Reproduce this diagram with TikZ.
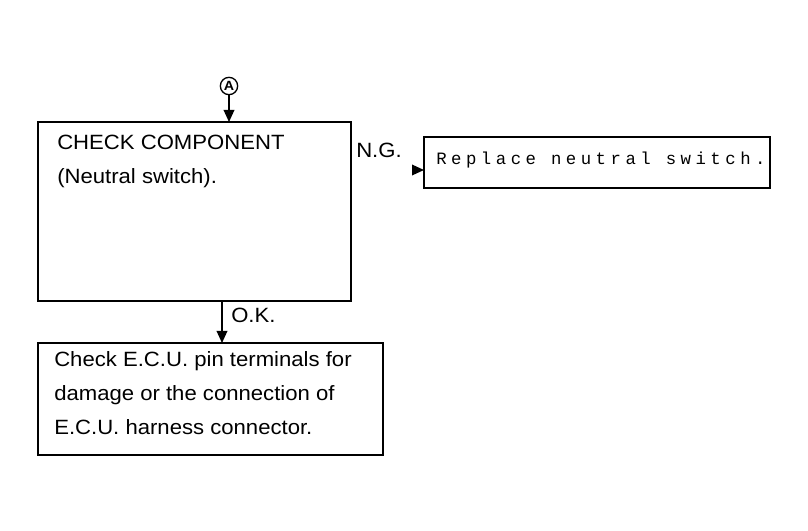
\documentclass[tikz,border=0pt]{standalone}
\usepackage{fontspec}
\setmainfont{Liberation Sans}[FakeStretch=1.07]
\newfontfamily\monofont[LetterSpace=26]{Liberation Mono}
\usetikzlibrary{arrows.meta}
\begin{document}
\begin{tikzpicture}[x=0.75pt,y=-0.75pt,
  box/.style={draw,line width=1.2pt},
  txt/.style={anchor=north west,align=left,font=\fontsize{15.5pt}{25.5pt}\selectfont,inner sep=0pt},
  flow/.style={-{Triangle[length=9pt,width=8pt]},line width=1pt}]
\useasboundingbox (0,0) rectangle (808,531);
\draw[box] (38,122) rectangle (351,301);
\draw[box] (424,137) rectangle (770,188);
\draw[box] (38,343) rectangle (383,455);
\coordinate (check) at (229,122);
\coordinate (repl) at (424,170);
\coordinate (ecu) at (222,343);
\node[circle,draw,line width=1pt,inner sep=0.8pt,minimum size=13pt,font=\bfseries\fontsize{10pt}{10pt}\selectfont] (A) at (229,86) {A};
\draw[flow] (A) -- (check);
\coordinate (ng) at (412,170);
\draw[flow] (ng) -- (repl);
\coordinate (ok) at (222,301);
\draw[flow] (ok) -- (ecu);
\node[txt] (t1) at (57,135) {CHECK COMPONENT\\(Neutral switch).};
\node[txt,anchor=west,font=\monofont\fontsize{13pt}{13pt}\selectfont] (t2) at (436,160) {Replace neutral switch.};
\node[txt] (t3) at (54,351) {Check E.C.U. pin terminals for\\damage or the connection of\\E.C.U. harness connector.};
\node[txt,anchor=west] (lng) at (356,150) {N.G.};
\node[txt,anchor=west] (lok) at (231,315) {O.K.};
\end{tikzpicture}
\end{document}
